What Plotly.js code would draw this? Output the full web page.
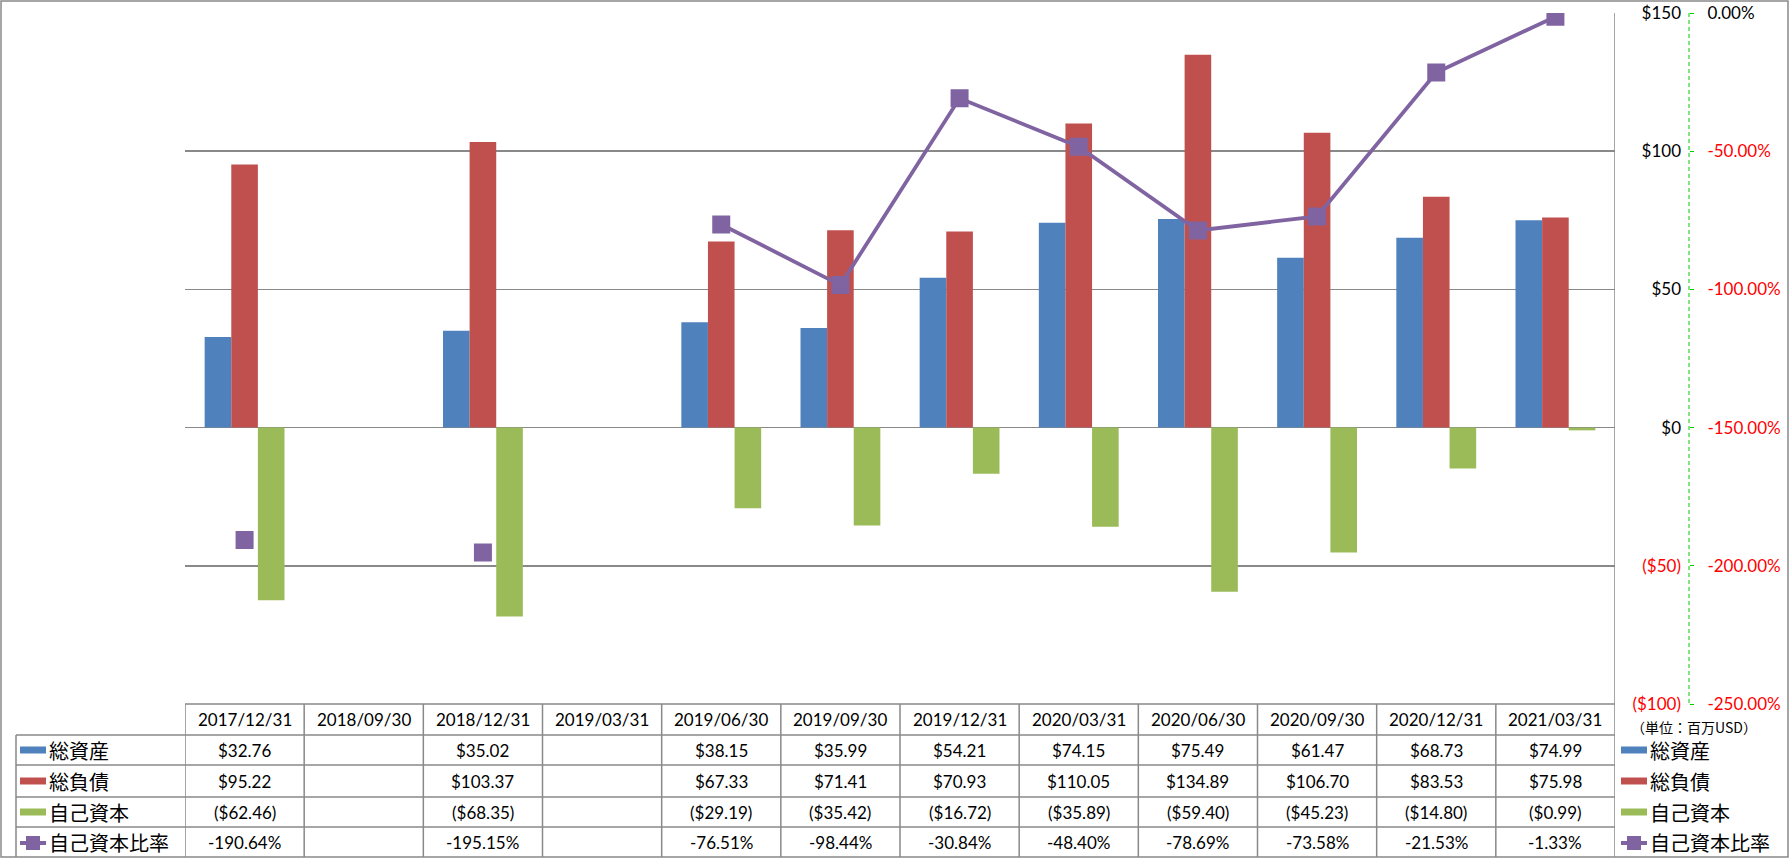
<!DOCTYPE html>
<html><head><meta charset="utf-8">
<script src="https://cdn.plot.ly/plotly-3.0.1.min.js"></script>
<style>html,body{margin:0;padding:0;background:#fff}#chart{width:1789px;height:858px}</style>
</head><body><div id="chart"></div>
<script>
const categories = ['2017/12/31','2018/09/30','2018/12/31','2019/03/31','2019/06/30','2019/09/30','2019/12/31','2020/03/31','2020/06/30','2020/09/30','2020/12/31','2021/03/31'];
const totalAssets = [32.76,null,35.02,null,38.15,35.99,54.21,74.15,75.49,61.47,68.73,74.99];
const totalLiabilities = [95.22,null,103.37,null,67.33,71.41,70.93,110.05,134.89,106.70,83.53,75.98];
const equity = [-62.46,null,-68.35,null,-29.19,-35.42,-16.72,-35.89,-59.40,-45.23,-14.80,-0.99];
const equityRatio = [-190.64,null,-195.15,null,-76.51,-98.44,-30.84,-48.40,-78.69,-73.58,-21.53,-1.33];
const seriesNames = ['総資産','総負債','自己資本','自己資本比率'];
const yTicks = [-100,-50,0,50,100,150];
const y2Ticks = [-250,-200,-150,-100,-50,0];
const unitLabel = '（単位：百万USD）';

const W = 1789, H = 858;
const px = x => x / W;
const py = y => 1 - y / H;
const colors = ['#4F81BD','#C0504D','#9BBB59','#8064A2'];
const gridColor = '#898989';
const NUMFONT = 'Lato, "Open Sans", sans-serif';
const CJKFONT = '"Noto Sans CJK JP", "Noto Sans CJK SC", sans-serif';
const RED = '#FF0000';

function money(v){ if(v===null) return ''; return v<0 ? '($'+Math.abs(v).toFixed(2)+')' : '$'+v.toFixed(2); }
function moneyTick(v){ return v<0 ? '<span style="color:'+RED+'">($'+Math.abs(v)+')</span>' : '$'+v; }
function pct(v){ return v===null ? '' : v.toFixed(2)+'%'; }
function pctTick(v){ return v<0 ? '<span style="color:'+RED+'">'+v.toFixed(2)+'%</span>' : v.toFixed(2)+'%'; }

const traces = [
  {type:'bar', name:seriesNames[0], x:categories, y:totalAssets, marker:{color:colors[0]}, yaxis:'y'},
  {type:'bar', name:seriesNames[1], x:categories, y:totalLiabilities, marker:{color:colors[1]}, yaxis:'y'},
  {type:'bar', name:seriesNames[2], x:categories, y:equity, marker:{color:colors[2]}, yaxis:'y'},
  {type:'scatter', mode:'lines+markers', name:seriesNames[3], x:categories, y:equityRatio, yaxis:'y2',
   connectgaps:false, line:{color:colors[3], width:3.8},
   marker:{symbol:'square', size:16, color:colors[3], line:{color:colors[3], width:2}}}
];

const shapes = [];
const annotations = [];
const lineStyle = {color:gridColor, width:1.5};

// outer border
shapes.push({type:'rect', xref:'paper', yref:'paper', x0:px(1), x1:px(1788), y0:py(857), y1:py(1), line:{color:gridColor, width:1.5}, layer:'above'});
// secondary axis dashed line
shapes.push({type:'line', xref:'paper', yref:'paper', x0:px(1689), x1:px(1689), y0:py(13), y1:py(704), line:{color:'#00CC00', width:1, dash:'4px,3px'}});

// table lines
const rowTops = [704, 735, 765, 797, 827, 857];
const rowCenters = [719.5, 750, 781, 812, 842];
shapes.push({type:'line', xref:'paper', yref:'paper', x0:px(185), x1:px(1615), y0:py(704), y1:py(704), line:lineStyle});
for (let r=1; r<5; r++) {
  shapes.push({type:'line', xref:'paper', yref:'paper', x0:px(16), x1:px(1615), y0:py(rowTops[r]), y1:py(rowTops[r]), line:lineStyle});
}
shapes.push({type:'line', xref:'paper', yref:'paper', x0:px(16), x1:px(16), y0:py(735), y1:py(857), line:lineStyle});
for (let i=0; i<=categories.length; i++) {
  const top = (i===categories.length) ? 13 : 704;
  shapes.push({type:'line', xref:'x', yref:'paper', x0:i-0.5, x1:i-0.5, y0:py(top), y1:py(857), line:lineStyle});
}

// table text
const rows = [totalAssets.map(money), totalLiabilities.map(money), equity.map(money), equityRatio.map(pct)];
categories.forEach((c,i) => {
  annotations.push({xref:'x', yref:'paper', x:i, y:py(rowCenters[0]), text:c, showarrow:false, xanchor:'center', yanchor:'middle', font:{family:NUMFONT, size:17, color:'#000'}});
  rows.forEach((row,r) => {
    if (row[i]) annotations.push({xref:'x', yref:'paper', x:i, y:py(rowCenters[r+1]), text:row[i], showarrow:false, xanchor:'center', yanchor:'middle', font:{family:NUMFONT, size:17, color:'#000'}});
  });
});

// legend keys (left in table, and right side)
function legendKey(x0, r, idx) {
  const cy = rowCenters[r+1];
  if (idx < 3) {
    shapes.push({type:'rect', xref:'paper', yref:'paper', x0:px(x0), x1:px(x0+26), y0:py(cy+3.5), y1:py(cy-3.5), fillcolor:colors[idx], line:{width:0}});
  } else {
    shapes.push({type:'line', xref:'paper', yref:'paper', x0:px(x0), x1:px(x0+26), y0:py(cy+1), y1:py(cy+1), line:{color:colors[3], width:4}});
    shapes.push({type:'rect', xref:'paper', yref:'paper', x0:px(x0+6), x1:px(x0+20), y0:py(cy+8), y1:py(cy-6), fillcolor:colors[3], line:{width:0}});
  }
  annotations.push({xref:'paper', yref:'paper', x:px(x0+27), y:py(cy), text:seriesNames[idx], showarrow:false, xanchor:'left', yanchor:'middle', font:{family:CJKFONT, size:20, color:'#000'}});
}
for (let k=0; k<4; k++) { legendKey(20, k, k); legendKey(1621, k, k); }
annotations.push({xref:'paper', yref:'paper', x:px(1629), y:py(727), text:unitLabel, showarrow:false, xanchor:'left', yanchor:'middle', font:{family:CJKFONT, size:14, color:'#000'}});

const layout = {
  width:W, height:H, margin:{l:0, r:0, t:0, b:0},
  paper_bgcolor:'#fff', plot_bgcolor:'#fff',
  showlegend:false, barmode:'group', bargap:0.33, bargroupgap:0,
  xaxis:{domain:[px(185), px(1615)], type:'category', range:[-0.5, 11.5], autorange:false, showticklabels:false, showgrid:false, zeroline:false, showline:false, ticks:'', automargin:false, fixedrange:true},
  yaxis:{domain:[py(704), py(13)], range:[-100,150], autorange:false, tickvals:yTicks, ticktext:yTicks.map(moneyTick),
         side:'left', anchor:'free', position:px(1681), showgrid:true, gridcolor:gridColor, gridwidth:1.5,
         zeroline:false, showline:false, ticks:'', tickfont:{family:NUMFONT, size:17, color:'#000'}, automargin:false},
  yaxis2:{overlaying:'y', side:'right', anchor:'free', position:px(1689), range:[-250,0], autorange:false, tickvals:y2Ticks, ticktext:y2Ticks.map(pctTick),
          showgrid:false, zeroline:false, showline:false, ticks:'outside', ticklen:4, tickcolor:'#00CC00', tickwidth:1, ticklabelstandoff:10,
          tickfont:{family:NUMFONT, size:17, color:'#000'}, automargin:false},
  shapes:shapes, annotations:annotations
};
Plotly.newPlot('chart', traces, layout, {staticPlot:true, displayModeBar:false});
</script></body></html>
